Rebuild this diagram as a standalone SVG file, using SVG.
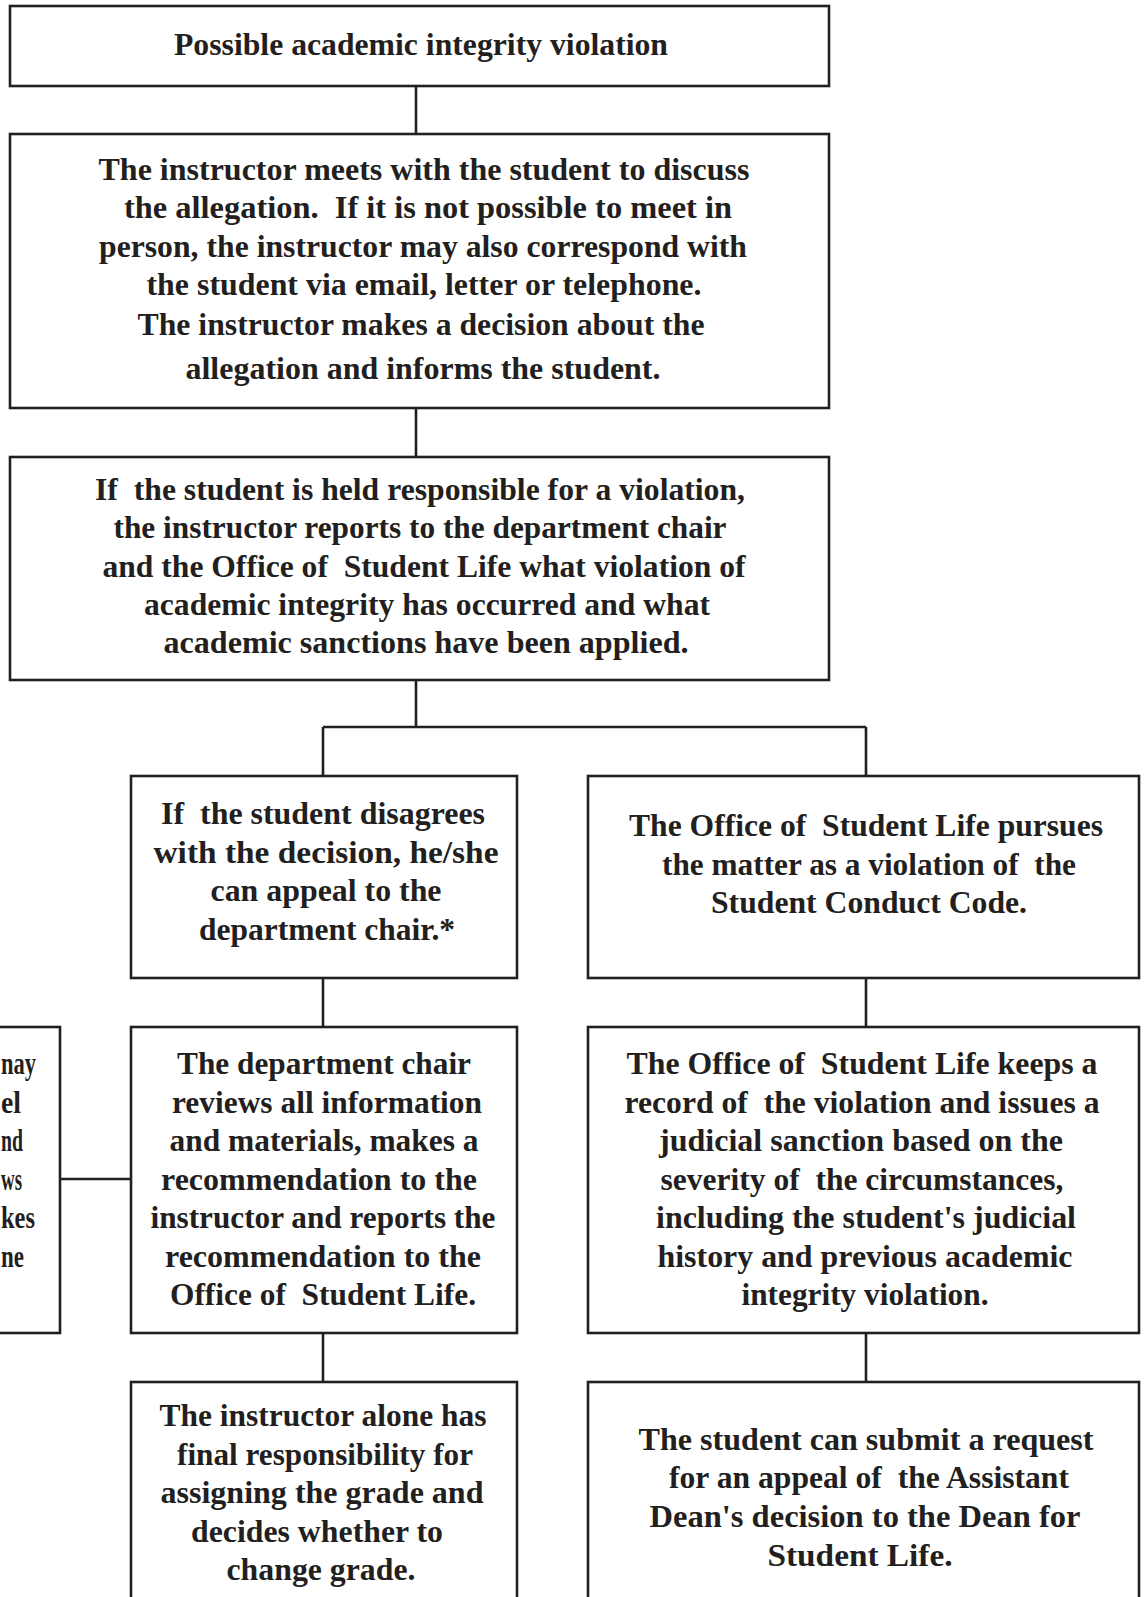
<svg xmlns="http://www.w3.org/2000/svg" width="1144" height="1597" viewBox="0 0 1144 1597">
<style>
.box{fill:#fff;stroke:#231f20;stroke-width:2.6}
.conn{fill:none;stroke:#231f20;stroke-width:2.6}
text{font-family:"Liberation Serif","Times New Roman",serif;font-weight:bold;font-size:31px;fill:#231f20;text-anchor:middle}
text.s{text-anchor:start}
</style>
<rect width="1144" height="1597" fill="#fff"/>
<g id="connectors">
<path class="conn" d="M416 86V134M416 408V457M416 680V727M323 727H866M323 727V776M866 727V776M323 978V1027M866 978V1027M323 1333V1382M866 1333V1382M60 1179H131"/>
</g>
<g id="n1">
<rect class="box" x="10" y="6" width="819" height="80"/>
<text x="421" y="55" textLength="494" lengthAdjust="spacingAndGlyphs">Possible academic integrity violation</text>
</g>
<g id="n2">
<rect class="box" x="10" y="134" width="819" height="274"/>
<text x="424" y="180" textLength="651" lengthAdjust="spacingAndGlyphs">The instructor meets with the student to discuss</text>
<text x="428" y="218" textLength="608" lengthAdjust="spacingAndGlyphs">the allegation.&#160; If it is not possible to meet in</text>
<text x="423" y="257" textLength="648" lengthAdjust="spacingAndGlyphs">person, the instructor may also correspond with</text>
<text x="424" y="295" textLength="555" lengthAdjust="spacingAndGlyphs">the student via email, letter or telephone.</text>
<text x="421" y="335" textLength="567" lengthAdjust="spacingAndGlyphs">The instructor makes a decision about the</text>
<text x="423" y="379" textLength="475" lengthAdjust="spacingAndGlyphs">allegation and informs the student.</text>
</g>
<g id="n3">
<rect class="box" x="10" y="457" width="819" height="223"/>
<text x="420" y="500" textLength="650" lengthAdjust="spacingAndGlyphs">If&#160; the student is held responsible for a violation,</text>
<text x="420" y="538" textLength="613" lengthAdjust="spacingAndGlyphs">the instructor reports to the department chair</text>
<text x="424" y="577" textLength="643" lengthAdjust="spacingAndGlyphs">and the Office of&#160; Student Life what violation of</text>
<text x="427" y="615" textLength="566" lengthAdjust="spacingAndGlyphs">academic integrity has occurred and what</text>
<text x="426" y="653" textLength="525" lengthAdjust="spacingAndGlyphs">academic sanctions have been applied.</text>
</g>
<g id="n4">
<rect class="box" x="131" y="776" width="386" height="202"/>
<text x="323" y="824" textLength="324" lengthAdjust="spacingAndGlyphs">If&#160; the student disagrees</text>
<text x="326" y="863" textLength="345" lengthAdjust="spacingAndGlyphs">with the decision, he/she</text>
<text x="326" y="901" textLength="231" lengthAdjust="spacingAndGlyphs">can appeal to the</text>
<text x="327" y="940" textLength="256" lengthAdjust="spacingAndGlyphs">department chair.*</text>
</g>
<g id="n5">
<rect class="box" x="588" y="776" width="551" height="202"/>
<text x="866" y="836" textLength="474" lengthAdjust="spacingAndGlyphs">The Office of&#160; Student Life pursues</text>
<text x="869" y="875" textLength="414" lengthAdjust="spacingAndGlyphs">the matter as a violation of&#160; the</text>
<text x="869" y="913" textLength="316" lengthAdjust="spacingAndGlyphs">Student Conduct Code.</text>
</g>
<g id="n6">
<rect class="box" x="131" y="1027" width="386" height="306"/>
<text x="324" y="1074" textLength="294" lengthAdjust="spacingAndGlyphs">The department chair</text>
<text x="327" y="1113" textLength="310" lengthAdjust="spacingAndGlyphs">reviews all information</text>
<text x="324" y="1151" textLength="309" lengthAdjust="spacingAndGlyphs">and materials, makes a</text>
<text x="319" y="1190" textLength="316" lengthAdjust="spacingAndGlyphs">recommendation to the</text>
<text x="323" y="1228" textLength="345" lengthAdjust="spacingAndGlyphs">instructor and reports the</text>
<text x="323" y="1267" textLength="316" lengthAdjust="spacingAndGlyphs">recommendation to the</text>
<text x="323" y="1305" textLength="306" lengthAdjust="spacingAndGlyphs">Office of&#160; Student Life.</text>
</g>
<g id="n7">
<rect class="box" x="588" y="1027" width="551" height="306"/>
<text x="862" y="1074" textLength="471" lengthAdjust="spacingAndGlyphs">The Office of&#160; Student Life keeps a</text>
<text x="862" y="1113" textLength="475" lengthAdjust="spacingAndGlyphs">record of&#160; the violation and issues a</text>
<text x="861" y="1151" textLength="404" lengthAdjust="spacingAndGlyphs">judicial sanction based on the</text>
<text x="862" y="1190" textLength="403" lengthAdjust="spacingAndGlyphs">severity of&#160; the circumstances,</text>
<text x="866" y="1228" textLength="420" lengthAdjust="spacingAndGlyphs">including the student's judicial</text>
<text x="865" y="1267" textLength="415" lengthAdjust="spacingAndGlyphs">history and previous academic</text>
<text x="865" y="1305" textLength="247" lengthAdjust="spacingAndGlyphs">integrity violation.</text>
</g>
<g id="n_left">
<rect class="box" x="-10" y="1027" width="70" height="306"/>
<text class="s" x="1" y="1074" textLength="35" lengthAdjust="spacingAndGlyphs">nay</text>
<text class="s" x="1" y="1113" textLength="20" lengthAdjust="spacingAndGlyphs">el</text>
<text class="s" x="1" y="1151" textLength="22" lengthAdjust="spacingAndGlyphs">nd</text>
<text class="s" x="1" y="1190" textLength="21" lengthAdjust="spacingAndGlyphs">ws</text>
<text class="s" x="1" y="1228" textLength="34" lengthAdjust="spacingAndGlyphs">kes</text>
<text class="s" x="1" y="1267" textLength="23" lengthAdjust="spacingAndGlyphs">ne</text>
</g>
<g id="n8">
<rect class="box" x="131" y="1382" width="386" height="240"/>
<text x="323" y="1426" textLength="327" lengthAdjust="spacingAndGlyphs">The instructor alone has</text>
<text x="325" y="1465" textLength="296" lengthAdjust="spacingAndGlyphs">final responsibility for</text>
<text x="322" y="1503" textLength="323" lengthAdjust="spacingAndGlyphs">assigning the grade and</text>
<text x="317" y="1542" textLength="252" lengthAdjust="spacingAndGlyphs">decides whether to</text>
<text x="321" y="1580" textLength="189" lengthAdjust="spacingAndGlyphs">change grade.</text>
</g>
<g id="n9">
<rect class="box" x="588" y="1382" width="551" height="240"/>
<text x="866" y="1450" textLength="455" lengthAdjust="spacingAndGlyphs">The student can submit a request</text>
<text x="869" y="1488" textLength="400" lengthAdjust="spacingAndGlyphs">for an appeal of&#160; the Assistant</text>
<text x="865" y="1527" textLength="431" lengthAdjust="spacingAndGlyphs">Dean's decision to the Dean for</text>
<text x="860" y="1566" textLength="185" lengthAdjust="spacingAndGlyphs">Student Life.</text>
</g>
</svg>
